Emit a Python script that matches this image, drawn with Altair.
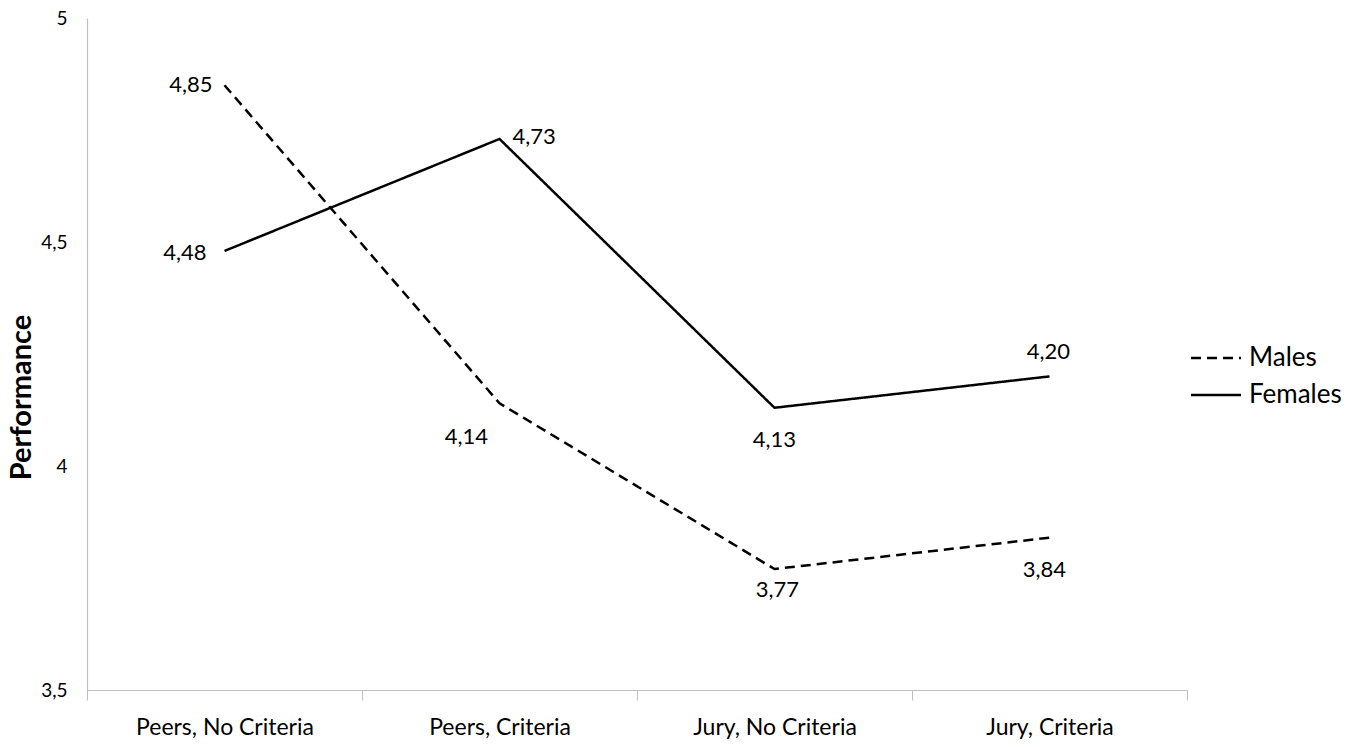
import altair as alt
import pandas as pd

categories = ["Peers, No Criteria", "Peers, Criteria", "Jury, No Criteria", "Jury, Criteria"]
males = [4.85, 4.14, 3.77, 3.84]
females = [4.48, 4.73, 4.13, 4.20]
series = ["Males", "Females"]
y_ticks = [3.5, 4.0, 4.5, 5.0]

rows = []
for i, c in enumerate(categories):
    rows.append({"cat": c, "series": "Males", "value": males[i], "idx": i})
    rows.append({"cat": c, "series": "Females", "value": females[i], "idx": i})
df = pd.DataFrame(rows)

# label offsets (style), per series and point index
label_style = {
    ("Males", 0): (-12, 0, "right"),
    ("Males", 1): (-33, 34, "center"),
    ("Males", 2): (3, 21, "center"),
    ("Males", 3): (-5, 32, "center"),
    ("Females", 0): (-18, 2, "right"),
    ("Females", 1): (13, -2, "left"),
    ("Females", 2): (0, 32, "center"),
    ("Females", 3): (-1, -24, "center"),
}

FONT = "Lato"

x_enc = alt.X(
    "cat:N",
    sort=categories,
    bandPosition=0.5,
    scale=alt.Scale(type="band", paddingInner=0, paddingOuter=0),
    axis=alt.Axis(
        title=None,
        tickBand="extent",
        tickSize=10,
        tickColor="#bfbfbf",
        domainColor="#bfbfbf",
        domainWidth=1.2,
        labelFontSize=23,
        labelFont=FONT,
        labelColor="#000000",
        labelPadding=16,
        labelAngle=0,
        labelLimit=0,
        grid=False,
    ),
)
y_enc = alt.Y(
    "value:Q",
    scale=alt.Scale(domain=[3.5, 5.0], nice=False, zero=False),
    axis=alt.Axis(
        title="Performance",
        titleFont=FONT,
        titleFontSize=29,
        titleFontWeight="bold",
        titleColor="#000000",
        titleX=-66,
        titleY=379,
        titleAlign="center",
        titleBaseline="middle",
        titleAngle=270,
        values=y_ticks,
        labelExpr="replace(toString(datum.value), '.', ',')",
        tickSize=0,
        labelPadding=20,
        labelFont=FONT,
        labelFontSize=19,
        labelColor="#000000",
        domainColor="#bfbfbf",
        domainWidth=1.2,
        grid=False,
    ),
)

base = alt.Chart(df)

lines = base.mark_line(color="black", strokeWidth=2.5).encode(
    x=x_enc,
    y=y_enc,
    strokeDash=alt.StrokeDash(
        "series:N",
        sort=series,
        scale=alt.Scale(domain=series, range=[[10, 6], [1, 0]]),
        legend=alt.Legend(
            title=None,
            orient="none",
            legendX=1115,
            legendY=326,
            symbolType="M-2,0H2",
            symbolSize=625,
            symbolStrokeWidth=2.5,
            symbolStrokeColor="black",
            labelFont=FONT,
            labelFontSize=26,
            labelColor="#000000",
            labelOffset=19,
            rowPadding=10,
        ),
    ),
)

text_layers = []
for (s, i), (dx, dy, align) in label_style.items():
    t = (
        base.transform_filter((alt.datum.series == s) & (alt.datum.idx == i))
        .transform_calculate(label="replace(format(datum.value, '.2f'), '.', ',')")
        .mark_text(dx=dx, dy=dy, align=align, baseline="middle", font=FONT, fontSize=22, color="black")
        .encode(x=alt.X("cat:N", sort=categories, bandPosition=0.5), y="value:Q", text="label:N")
    )
    text_layers.append(t)

chart = alt.layer(lines, *text_layers).properties(
    width=1100,
    height=672,
    autosize=alt.AutoSizeParams(type="none"),
    padding={"left": 87, "top": 18, "right": 171, "bottom": 57},
).configure(background="white").configure_view(strokeOpacity=0, stroke="transparent")

chart.save("out.html", embed_options={"renderer": "svg", "actions": False})
